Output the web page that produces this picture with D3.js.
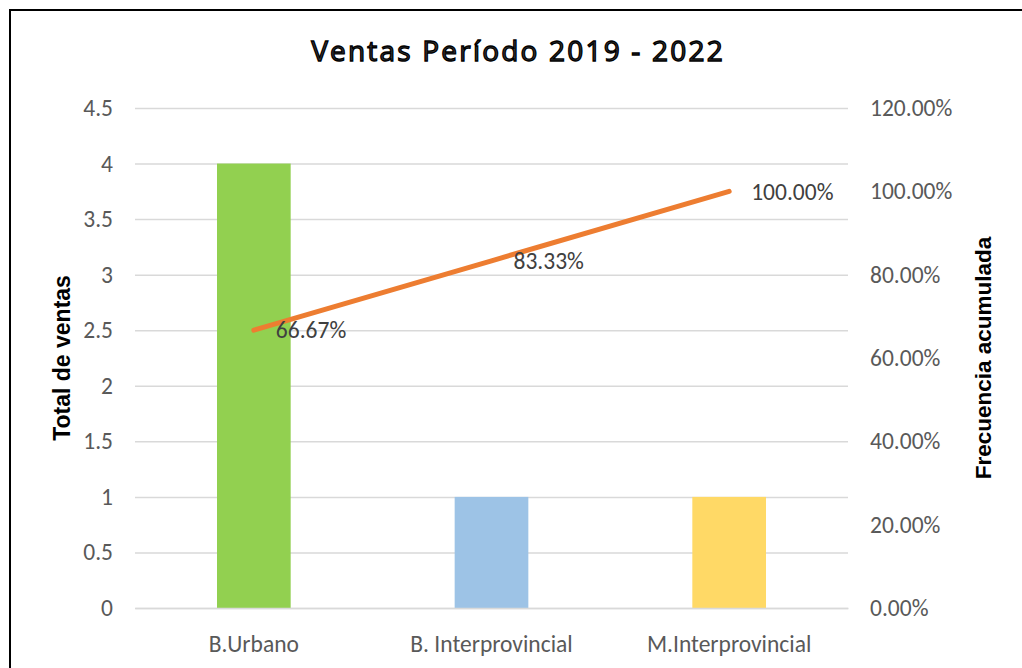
<!DOCTYPE html>
<html>
<head>
<meta charset="utf-8">
<script src="https://cdn.jsdelivr.net/npm/d3@7"></script>
<style>
  body { margin: 0; background: #fff; }
  svg { display: block; }
</style>
</head>
<body>
<div id="chart"></div>
<script>
// values
const categories = ['B.Urbano', 'B. Interprovincial', 'M.Interprovincial'];
const ventas = [4, 1, 1];
const acumulada = [0.6667, 0.8333, 1.0];
const barColors = ['#92d050', '#9dc3e6', '#ffd966'];
const leftTicks = [0, 0.5, 1, 1.5, 2, 2.5, 3, 3.5, 4, 4.5];
const rightTicks = [0, 0.2, 0.4, 0.6, 0.8, 1.0, 1.2];

const width = 1022, height = 668;
const marginLeft = 135, marginRight = 174, marginTop = 108, marginBottom = 60;
const labelFont = 'Carlito, Calibri, Lato, sans-serif';
const labelSize = '23.5px';

const svg = d3.select('#chart').append('svg')
    .attr('width', width)
    .attr('height', height)
    .attr('viewBox', [0, 0, width, height]);

// frame
svg.append('rect')
    .attr('x', 10).attr('y', 10)
    .attr('width', 1040).attr('height', 700)
    .attr('fill', 'none')
    .attr('stroke', '#000')
    .attr('stroke-width', 2);

const xScale = d3.scaleBand(categories, [marginLeft, width - marginRight])
    .paddingInner(0.69)
    .paddingOuter(0.345);
const yScale = d3.scaleLinear([0, 4.5], [height - marginBottom, marginTop]);
const y2Scale = d3.scaleLinear([0, 1.2], [height - marginBottom, marginTop]);

// left axis + grid
svg.append('g')
    .attr('transform', `translate(${marginLeft},0)`)
    .call(d3.axisLeft(yScale).tickValues(leftTicks).tickSize(0).tickPadding(22)
        .tickFormat(d => String(d)))
    .call(g => g.select('.domain').remove())
    .call(g => g.selectAll('.tick text')
        .attr('fill', '#595959')
        .style('font-family', labelFont)
        .style('font-size', labelSize))
    .call(g => g.selectAll('.tick line').clone()
        .attr('x2', width - marginLeft - marginRight)
        .attr('stroke', '#d9d9d9')
        .attr('stroke-width', 1.5));

// right axis
svg.append('g')
    .attr('transform', `translate(${width - marginRight},0)`)
    .call(d3.axisRight(y2Scale).tickValues(rightTicks).tickSize(0).tickPadding(22)
        .tickFormat(d3.format('.2%')))
    .call(g => g.select('.domain').remove())
    .call(g => g.selectAll('.tick text')
        .attr('fill', '#595959')
        .style('font-family', labelFont)
        .style('font-size', labelSize));

// bars
svg.append('g')
    .selectAll('rect')
    .data(categories)
    .join('rect')
    .attr('x', d => xScale(d))
    .attr('y', (d, i) => yScale(ventas[i]))
    .attr('width', xScale.bandwidth())
    .attr('height', (d, i) => yScale(0) - yScale(ventas[i]))
    .attr('fill', (d, i) => barColors[i]);

// bottom axis
svg.append('g')
    .attr('transform', `translate(0,${height - marginBottom})`)
    .call(d3.axisBottom(xScale).tickSize(0).tickPadding(27))
    .call(g => g.select('.domain')
        .attr('stroke', '#d9d9d9')
        .attr('stroke-width', 1.5))
    .call(g => g.selectAll('.tick text')
        .attr('fill', '#595959')
        .style('font-family', labelFont)
        .style('font-size', labelSize));

// cumulative line
const line = d3.line()
    .x((d, i) => xScale(categories[i]) + xScale.bandwidth() / 2)
    .y(d => y2Scale(d));

svg.append('path')
    .attr('fill', 'none')
    .attr('stroke', '#ed7d31')
    .attr('stroke-width', 5)
    .attr('stroke-linecap', 'round')
    .attr('stroke-linejoin', 'round')
    .attr('d', line(acumulada));

svg.append('g')
    .selectAll('text')
    .data(acumulada)
    .join('text')
    .attr('x', (d, i) => xScale(categories[i]) + xScale.bandwidth() / 2 + 22)
    .attr('y', d => y2Scale(d))
    .attr('dy', '0.35em')
    .attr('fill', '#404040')
    .style('font-family', labelFont)
    .style('font-size', labelSize)
    .text(d => d3.format('.2%')(d));

// title
svg.append('text')
    .attr('x', 518)
    .attr('y', 61)
    .attr('text-anchor', 'middle')
    .attr('fill', '#3a3a3a')
    .attr('stroke', '#000')
    .attr('stroke-width', 1.3)
    .style('font-family', '"Open Sans", sans-serif')
    .style('font-size', '28px')
    .style('letter-spacing', '2.2px')
    .text('Ventas Período 2019 - 2022');

// axis titles
svg.append('text')
    .attr('transform', 'translate(62,358) rotate(-90)')
    .attr('text-anchor', 'middle')
    .attr('dy', '0.35em')
    .style('font-family', 'Liberation Sans, Arial, sans-serif')
    .style('font-weight', 'bold')
    .style('font-size', '23px')
    .text('Total de ventas');

svg.append('text')
    .attr('transform', 'translate(983,358) rotate(-90)')
    .attr('text-anchor', 'middle')
    .attr('dy', '0.35em')
    .style('font-family', 'Liberation Sans, Arial, sans-serif')
    .style('font-weight', 'bold')
    .style('font-size', '22.5px')
    .text('Frecuencia acumulada');
</script>
</body>
</html>
